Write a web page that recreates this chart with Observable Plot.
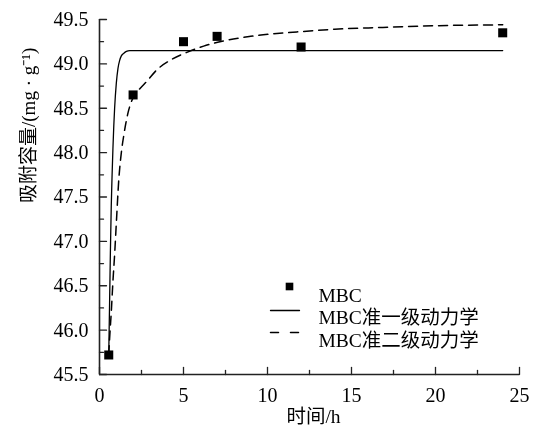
<!DOCTYPE html>
<html><head><meta charset="utf-8">
<script src="https://cdn.jsdelivr.net/npm/d3@7"></script>
<script src="https://cdn.jsdelivr.net/npm/@observablehq/plot@0.6"></script>
<style>
body{margin:0;background:#fff}
#chart{position:relative;width:533px;height:432px}
#chart svg{filter:grayscale(1)}
</style>
</head><body><div id="chart"></div>
<script>
// measured adsorption capacity
const timeH = [0.55, 2, 5, 7, 12, 24];
const capacity = [45.72, 48.65, 49.25, 49.31, 49.19, 49.35];
// pseudo-first-order fit curve
const pfoTime = [0.55, 0.6, 0.65, 0.7, 0.75, 0.8, 0.85, 0.9, 1.0, 1.1, 1.2, 1.3, 1.45, 1.6, 1.8, 2.5, 5, 10, 15, 20, 24];
const pfoValue = [45.72, 46.3, 46.9, 47.4, 47.75, 48.05, 48.3, 48.5, 48.78, 48.95, 49.04, 49.09, 49.12, 49.14, 49.15, 49.15, 49.15, 49.15, 49.15, 49.15, 49.15];
// pseudo-second-order fit curve
const psoTime = [0.55, 0.6, 0.7, 0.8, 0.9, 1.0, 1.15, 1.3, 1.45, 1.7, 2.0, 2.4, 2.8, 3.4, 4.3, 5.2, 6.2, 7.4, 9, 11.75, 14, 16.7, 20, 24];
const psoValue = [45.72, 45.9, 46.2, 46.55, 46.85, 47.2, 47.7, 48.0, 48.2, 48.45, 48.62, 48.72, 48.8, 48.93, 49.05, 49.13, 49.2, 49.26, 49.31, 49.36, 49.39, 49.41, 49.43, 49.44];

const xTicks = [0, 5, 10, 15, 20, 25];
const xMinor = [2.5, 7.5, 12.5, 17.5, 22.5];
const yTicks = [45.5, 46.0, 46.5, 47.0, 47.5, 48.0, 48.5, 49.0, 49.5];
const yMinor = [45.75, 46.25, 46.75, 47.25, 47.75, 48.25, 48.75, 49.25];
const seriesNames = ["MBC", "MBC准一级动力学", "MBC准二级动力学"];
const xLabel = "时间/h";
const yLabel = "吸附容量/(mg · g⁻¹)";

const points = timeH.map((t, i) => ({t, q: capacity[i]}));
const pfo = pfoTime.map((t, i) => ({t, q: pfoValue[i]}));
const pso = psoTime.map((t, i) => ({t, q: psoValue[i]}));

const lineShape = {draw(ctx, l) { ctx.moveTo(0, 0); ctx.lineTo(0, -l); }};
const axisColor = "#222";
const font = "'Liberation Serif', 'Noto Sans CJK SC'";

const plot = Plot.plot({
  width: 533,
  height: 432,
  marginLeft: 99,
  marginRight: 14,
  marginTop: 19,
  marginBottom: 58,
  style: {fontFamily: font, fontSize: "19.5px", color: "#000", background: "#fff"},
  x: {domain: [xTicks[0], xTicks[xTicks.length - 1]]},
  y: {domain: [yTicks[0], yTicks[yTicks.length - 1]]},
  marks: [
    Plot.ruleX([xTicks[0]], {stroke: axisColor, strokeWidth: 1.6}),
    Plot.ruleY([yTicks[0]], {stroke: axisColor, strokeWidth: 1.6}),
    Plot.vector(yTicks, {y: d => d, frameAnchor: "left", rotate: 90, length: 7, anchor: "start", shape: lineShape, stroke: axisColor, strokeWidth: 1.3}),
    Plot.vector(yMinor, {y: d => d, frameAnchor: "left", rotate: 90, length: 4, anchor: "start", shape: lineShape, stroke: axisColor, strokeWidth: 1.3}),
    Plot.vector(xTicks, {x: d => d, frameAnchor: "bottom", rotate: 0, length: 7, anchor: "start", shape: lineShape, stroke: axisColor, strokeWidth: 1.3}),
    Plot.vector(xMinor, {x: d => d, frameAnchor: "bottom", rotate: 0, length: 4, anchor: "start", shape: lineShape, stroke: axisColor, strokeWidth: 1.3}),
    Plot.axisX(xTicks, {tickSize: 0, tickPadding: 13, label: null, fontSize: 20}),
    Plot.axisY(yTicks, {tickSize: 0, tickPadding: 11, tickFormat: d3.format(".1f"), label: null, fontSize: 20}),
    Plot.text([yLabel], {text: d => d, frameAnchor: "left", rotate: -90, dx: -71, dy: 6, fill: "#000", fontSize: 19}),
    Plot.text([xLabel], {text: d => d, frameAnchor: "bottom", dx: 4, dy: 48, fill: "#000"}),
    Plot.line(pso, {x: "t", y: "q", stroke: "#000", strokeWidth: 1.5, strokeDasharray: "9,6", curve: "monotone-x"}),
    Plot.line(pfo, {x: "t", y: "q", stroke: "#000", strokeWidth: 1.3, curve: "monotone-x"}),
    Plot.dot(points, {x: "t", y: "q", symbol: "square", r: 5.1, fill: "#000", stroke: null}),
    // legend
    Plot.dot([seriesNames[0]], {frameAnchor: "top-left", dx: 190, dy: 267, symbol: "square", r: 4.3, fill: "#000", stroke: null}),
    Plot.vector([seriesNames[1]], {frameAnchor: "top-left", dx: 171, dy: 291, rotate: 90, length: 29, anchor: "start", shape: lineShape, stroke: "#000", strokeWidth: 1.3}),
    Plot.vector([seriesNames[2]], {frameAnchor: "top-left", dx: 171, dy: 313, rotate: 90, length: 28, anchor: "start", shape: lineShape, stroke: "#000", strokeWidth: 1.5, strokeDasharray: "8,12"}),
    Plot.text([seriesNames[0]], {text: d => d, frameAnchor: "top-left", dx: 219, dy: 269, textAnchor: "start", fill: "#000"}),
    Plot.text([seriesNames[1]], {text: d => d, frameAnchor: "top-left", dx: 219, dy: 291, textAnchor: "start", fill: "#000"}),
    Plot.text([seriesNames[2]], {text: d => d, frameAnchor: "top-left", dx: 219, dy: 314, textAnchor: "start", fill: "#000"})
  ]
});
document.getElementById("chart").appendChild(plot);
</script>
</body></html>
